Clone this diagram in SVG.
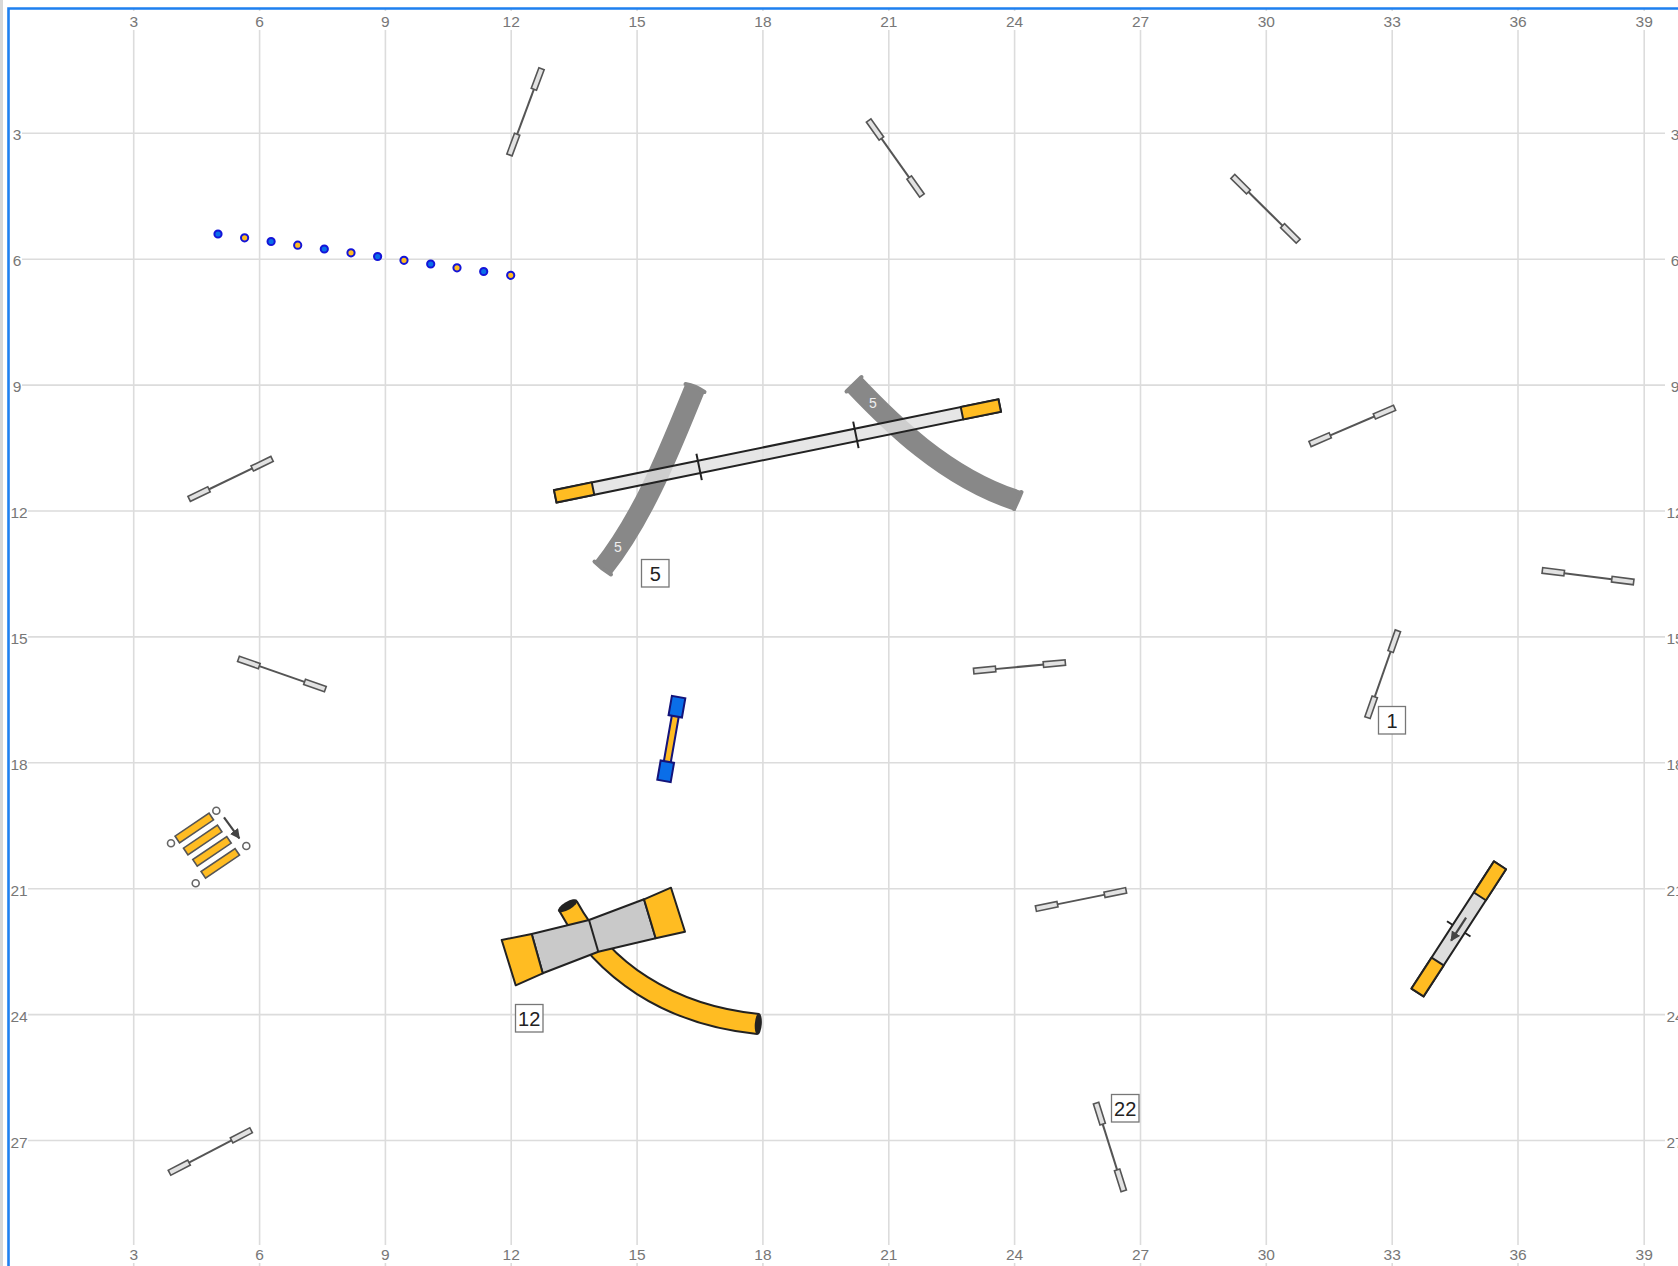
<svg xmlns="http://www.w3.org/2000/svg" xmlns:xlink="http://www.w3.org/1999/xlink" width="1678" height="1266" viewBox="0 0 1678 1266">
<style>
text{font-family:"Liberation Sans",Arial,sans-serif}
.gl{stroke:#dcdcdc;stroke-width:1.6;fill:none}
.ax{font-size:15.5px;fill:#777;text-anchor:middle;dominant-baseline:central}
.lb{fill:#fff;stroke:#777;stroke-width:1.3}
.lt{font-size:20px;fill:#222;text-anchor:middle;dominant-baseline:central}
.jl{stroke:#555;stroke-width:2;fill:none}
.jr{fill:#e2e2e2;stroke:#555;stroke-width:1.6}
.or{fill:#ffbc22;stroke:#222;stroke-width:2;stroke-linejoin:round}
.gy{fill:#c9c9c9;stroke:#222;stroke-width:2;stroke-linejoin:round}
.tm{fill:none;stroke:#888;stroke-width:21}
.tc{fill:none;stroke:#888;stroke-width:4;stroke-linecap:round}
.tt{font-size:14px;fill:#eee;text-anchor:middle;dominant-baseline:central}
.tick{stroke:#222;stroke-width:2;fill:none}
.b{fill:#0a6ee8;stroke:#1414d8;stroke-width:2}
.o{fill:#ffbc22;stroke:#1414d8;stroke-width:2}
.st{fill:#ffbc22;stroke:#555;stroke-width:1.6}
.sc{fill:#fff;stroke:#666;stroke-width:1.6}
.ar{stroke:#444;stroke-width:2.2;fill:none;marker-end:url(#ah)}
</style>
<defs>
<marker id="ah" markerUnits="userSpaceOnUse" markerWidth="12" markerHeight="12" refX="9" refY="5" orient="auto"><path d="M0,0L10,5L0,10Z" fill="#444"/></marker>
<g id="jump"><line class="jl" x1="-36" y1="0" x2="36" y2="0"/><rect class="jr" x="-46" y="-2.8" width="22" height="5.6"/><rect class="jr" x="24" y="-2.8" width="22" height="5.6"/></g>
</defs>
<rect width="1678" height="1266" fill="#fff"/>
<rect x="0" y="0" width="3" height="1266" fill="#d8d8d8"/>
<g id="grid">
<path class="gl" d="M133.7 30V1245M259.6 30V1245M385.4 30V1245M511.2 30V1245M637.1 30V1245M762.9 30V1245M888.8 30V1245M1014.6 30V1245M1140.5 30V1245M1266.3 30V1245M1392.2 30V1245M1518 30V1245M1644.2 30V1245"/>
<path class="gl" d="M133.7 8V11M259.6 8V11M385.4 8V11M511.2 8V11M637.1 8V11M762.9 8V11M888.8 8V11M1014.6 8V11M1140.5 8V11M1266.3 8V11M1392.2 8V11M1518 8V11M1644.2 8V11M133.7 1263V1266M259.6 1263V1266M385.4 1263V1266M511.2 1263V1266M637.1 1263V1266M762.9 1263V1266M888.8 1263V1266M1014.6 1263V1266M1140.5 1263V1266M1266.3 1263V1266M1392.2 1263V1266M1518 1263V1266M1644.2 1263V1266"/>
<path class="gl" d="M22 133.3H1665M22 259.2H1665M22 385.1H1665M28 511H1665M28 636.9H1665M28 762.8H1665M28 888.7H1665M28 1014.6H1665M28 1140.5H1665"/>
<g class="ax-top">
<text class="ax" x="133.7" y="21">3</text><text class="ax" x="259.6" y="21">6</text><text class="ax" x="385.4" y="21">9</text><text class="ax" x="511.2" y="21">12</text><text class="ax" x="637.1" y="21">15</text><text class="ax" x="762.9" y="21">18</text><text class="ax" x="888.8" y="21">21</text><text class="ax" x="1014.6" y="21">24</text><text class="ax" x="1140.5" y="21">27</text><text class="ax" x="1266.3" y="21">30</text><text class="ax" x="1392.2" y="21">33</text><text class="ax" x="1518" y="21">36</text><text class="ax" x="1644.2" y="21">39</text>
<text class="ax" x="133.7" y="1254">3</text><text class="ax" x="259.6" y="1254">6</text><text class="ax" x="385.4" y="1254">9</text><text class="ax" x="511.2" y="1254">12</text><text class="ax" x="637.1" y="1254">15</text><text class="ax" x="762.9" y="1254">18</text><text class="ax" x="888.8" y="1254">21</text><text class="ax" x="1014.6" y="1254">24</text><text class="ax" x="1140.5" y="1254">27</text><text class="ax" x="1266.3" y="1254">30</text><text class="ax" x="1392.2" y="1254">33</text><text class="ax" x="1518" y="1254">36</text><text class="ax" x="1644.2" y="1254">39</text>
<text class="ax" x="17" y="134.5">3</text><text class="ax" x="17" y="260">6</text><text class="ax" x="17" y="386">9</text><text class="ax" x="19" y="512">12</text><text class="ax" x="19" y="638">15</text><text class="ax" x="19" y="764">18</text><text class="ax" x="19" y="890">21</text><text class="ax" x="19" y="1016">24</text><text class="ax" x="19" y="1142">27</text>
<text class="ax" x="1675" y="134.5">3</text><text class="ax" x="1675" y="260">6</text><text class="ax" x="1675" y="386">9</text><text class="ax" x="1675" y="512">12</text><text class="ax" x="1675" y="638">15</text><text class="ax" x="1675" y="764">18</text><text class="ax" x="1675" y="890">21</text><text class="ax" x="1675" y="1016">24</text><text class="ax" x="1675" y="1142">27</text>
</g>
</g>
<path id="frame" d="M8.5 1266V8.5H1678" fill="none" stroke="#1e80f0" stroke-width="2.6"/>
<g id="connectors"/>
<g id="jumps">
<g id="jump-1"><use href="#jump" transform="translate(525.5 111.8) rotate(-69.6)"/></g>
<g id="jump-2"><use href="#jump" transform="translate(895.3 158) rotate(54.6)"/></g>
<g id="jump-3"><use href="#jump" transform="translate(1265.5 208.8) rotate(44.7)"/></g>
<g id="jump-4"><use href="#jump" transform="translate(230.6 478.9) rotate(-25.7)"/></g>
<g id="jump-5"><use href="#jump" transform="translate(1352.3 425.9) rotate(-23.2)"/></g>
<g id="jump-6"><use href="#jump" transform="translate(1588 576.2) rotate(7.2)"/></g>
<g id="jump-7"><use href="#jump" transform="translate(281.9 674) rotate(19.2)"/></g>
<g id="jump-8"><use href="#jump" transform="translate(1019.5 666.8) rotate(-5.3)"/></g>
<g id="jump-9"><use href="#jump" transform="translate(1382.7 674.2) rotate(-70.7)"/></g>
<g id="jump-10"><use href="#jump" transform="translate(1081 899.5) rotate(-11.4)"/></g>
<g id="jump-11"><use href="#jump" transform="translate(210.3 1151.5) rotate(-27.5)"/></g>
<g id="jump-12"><use href="#jump" transform="translate(1109.9 1147) rotate(72.5)"/></g>
</g>
<g id="weave">
<circle class="b" cx="218" cy="234" r="3.6"/><circle class="o" cx="244.6" cy="237.8" r="3.6"/><circle class="b" cx="271.1" cy="241.5" r="3.6"/><circle class="o" cx="297.7" cy="245.2" r="3.6"/><circle class="b" cx="324.3" cy="249" r="3.6"/><circle class="o" cx="351" cy="252.8" r="3.6"/><circle class="b" cx="377.6" cy="256.5" r="3.6"/><circle class="o" cx="404" cy="260.3" r="3.6"/><circle class="b" cx="430.7" cy="264" r="3.6"/><circle class="o" cx="457" cy="267.8" r="3.6"/><circle class="b" cx="483.7" cy="271.5" r="3.6"/><circle class="o" cx="510.7" cy="275.3" r="3.6"/>
</g>
<g id="tunnel-left">
<path class="tm" d="M695 388C672 444 645 515 603 568"/>
<path class="tc" d="M685.5 384Q696 386 704.5 392"/>
<path class="tc" d="M594.500 561.500Q602 569 611 574.500"/>
<text class="tt" x="618" y="547">5</text>
</g>
<g id="tunnel-right">
<path class="tm" d="M854 384C888 420 945 478 1018.500 501"/>
<path class="tc" d="M846.500 391.500L861.500 377"/>
<path class="tc" d="M1021.500 492Q1018 501 1014 509"/>
<text class="tt" x="873" y="403">5</text>
</g>
<g id="dogwalk" transform="translate(777.5 450.9) rotate(-11.55)">
<rect x="-226.800" y="-6.300" width="453.600" height="12.600" fill="#e0e0e0" fill-opacity=".8" stroke="#222" stroke-width="2"/>
<rect class="or" x="-226.800" y="-6.300" width="38.500" height="12.600"/>
<rect class="or" x="188.300" y="-6.300" width="38.500" height="12.600"/>
<path class="tick" d="M-80-13.500V13.500M80-13.500V13.500"/>
</g>
<g id="table" transform="translate(671.300 739) rotate(9.9)">
<rect x="-3.500" y="-24" width="7" height="48" fill="#ffbc22" stroke="#14147a" stroke-width="2"/>
<rect x="-6.800" y="-42.500" width="13.600" height="19.500" fill="#0a6ee8" stroke="#14147a" stroke-width="2"/>
<rect x="-6.800" y="23" width="13.600" height="19.500" fill="#0a6ee8" stroke="#14147a" stroke-width="2"/>
</g>
<g id="stairs">
<rect class="st" x="-20.500" y="-4" width="41" height="8" transform="translate(194.300 828) rotate(-34)"/>
<rect class="st" x="-20.500" y="-4" width="41" height="8" transform="translate(202.700 840) rotate(-34)"/>
<rect class="st" x="-20.500" y="-4" width="41" height="8" transform="translate(212 851.300) rotate(-34)"/>
<rect class="st" x="-20.500" y="-4" width="41" height="8" transform="translate(220.300 863.300) rotate(-34)"/>
<circle class="sc" cx="171" cy="843.300" r="3.500"/><circle class="sc" cx="216.300" cy="810.700" r="3.500"/><circle class="sc" cx="195.700" cy="883.300" r="3.500"/><circle class="sc" cx="246.300" cy="846" r="3.500"/>
<path class="ar" d="M224 817.300L239.300 838.300"/>
</g>
<g id="tunnel-yellow">
<path d="M568 906C603 970 668 1015 758 1024" fill="none" stroke="#222" stroke-width="22"/>
<path d="M568 906C603 970 668 1015 758 1024" fill="none" stroke="#ffbc22" stroke-width="18"/>
<ellipse cx="567.700" cy="905.700" rx="11" ry="4" transform="rotate(-30 567.700 905.700)" fill="#222"/>
<ellipse cx="758.300" cy="1024" rx="11" ry="3.500" transform="rotate(94 758.300 1024)" fill="#222"/>
</g>
<g id="long-jump">
<path class="gy" d="M531.700 934L589 920L644 899.300L655.700 938.300L598.300 951.700L542.700 973.300Z"/>
<path class="tick" d="M589 920L598.300 951.700"/>
<path class="or" d="M501.700 940L531.700 934L542.700 973.300L515.700 985.300Z"/>
<path class="or" d="M644 899.300L671 887.700L685 931.700L655.700 938.300Z"/>
</g>
<g id="aframe" transform="translate(1458.750 928.900) rotate(-57.040)">
<path class="tick" d="M0-14V14"/>
<rect class="gy" x="-75.800" y="-7.200" width="151.600" height="14.400" fill="#ddd" style="fill:#ddd"/>
<rect class="or" x="-75.800" y="-7.200" width="37" height="14.400"/>
<rect class="or" x="38.800" y="-7.200" width="37" height="14.400"/>
<path class="ar" d="M13.500 0H-14"/>
</g>
<g id="label-5"><rect class="lb" x="641.500" y="559.500" width="27.500" height="27.500"/><text class="lt" x="655.200" y="574">5</text></g>
<g id="label-1"><rect class="lb" x="1378.500" y="706.500" width="27" height="27.500"/><text class="lt" x="1392" y="721">1</text></g>
<g id="label-12"><rect class="lb" x="515.500" y="1004.500" width="27.500" height="27.500"/><text class="lt" x="529.200" y="1019">12</text></g>
<g id="label-22"><rect class="lb" x="1111.500" y="1094.500" width="27.500" height="27.500"/><text class="lt" x="1125.200" y="1109">22</text></g>
</svg>
